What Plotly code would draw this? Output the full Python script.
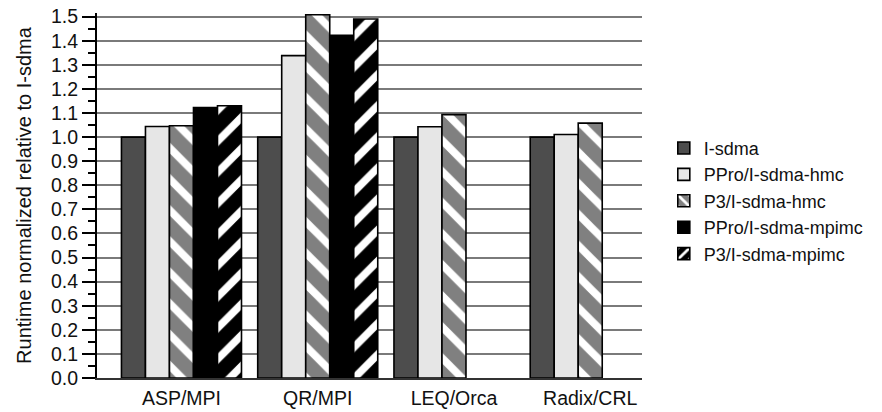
import plotly.graph_objects as go

categories = ["ASP/MPI", "QR/MPI", "LEQ/Orca", "Radix/CRL"]
series_names = ["I-sdma", "PPro/I-sdma-hmc", "P3/I-sdma-hmc", "PPro/I-sdma-mpimc", "P3/I-sdma-mpimc"]
i_sdma = [1.0, 1.0, 1.0, 1.0]
ppro_hmc = [1.044, 1.338, 1.043, 1.011]
p3_hmc = [1.047, 1.508, 1.093, 1.058]
ppro_mpimc = [1.123, 1.422, None, None]
p3_mpimc = [1.130, 1.490, None, None]
y_tick_vals = [round(i * 0.1, 1) for i in range(16)]
y_tick_text = [f"{v:.1f}" for v in y_tick_vals]

series_values = [i_sdma, ppro_hmc, p3_hmc, ppro_mpimc, p3_mpimc]
styles = [
    dict(color="#4d4d4d"),
    dict(color="#e6e6e6"),
    dict(color="#808080", pattern=dict(shape="\\", bgcolor="#808080", fgcolor="#ffffff", size=22, solidity=0.35, fillmode="replace")),
    dict(color="#000000"),
    dict(color="#000000", pattern=dict(shape="/", bgcolor="#000000", fgcolor="#ffffff", size=22, solidity=0.35, fillmode="replace")),
]

fig = go.Figure()
for name, vals, st in zip(series_names, series_values, styles):
    marker = dict(line=dict(color="#000000", width=1.6))
    marker.update(st)
    fig.add_trace(go.Bar(x=categories, y=vals, name=name, marker=marker))

font_family = "Liberation Sans, Arial, sans-serif"
fig.update_layout(
    barmode="group",
    bargap=0.119,
    bargroupgap=0,
    width=882,
    height=412,
    margin=dict(l=97, r=240, t=13, b=34, autoexpand=False),
    paper_bgcolor="#ffffff",
    plot_bgcolor="#ffffff",
    font=dict(family=font_family, size=19.5, color="#111111"),
    showlegend=True,
    legend=dict(
        x=1.04, y=0.68, xanchor="left", yanchor="top",
        font=dict(size=18, family=font_family, color="#111111"),
        bgcolor="rgba(0,0,0,0)", tracegroupgap=0,
    ),
    xaxis=dict(
        type="category",
        range=[-0.62, 3.38],
        automargin=False,
        showgrid=False,
        showline=True, linecolor="#333333", linewidth=1.5,
        ticks="", tickfont=dict(size=19.5),
        ticklabelstandoff=2,
    ),
    yaxis=dict(
        range=[0, 1.515],
        automargin=False,
        tickvals=y_tick_vals, ticktext=y_tick_text,
        showgrid=True, gridcolor="#7a7a7a", gridwidth=1.5,
        showline=True, linecolor="#000000", linewidth=2,
        ticks="outside", ticklen=13, tickwidth=1.5, tickcolor="#000000",
        minor=dict(dtick=0.05, ticks="outside", ticklen=7, tickwidth=1.5, tickcolor="#000000", showgrid=False),
        tickfont=dict(size=19.5),
        zeroline=False,
        title=dict(text="Runtime normalized relative to I-sdma", font=dict(size=20), standoff=14),
    ),
)

fig.write_html("out.html")
